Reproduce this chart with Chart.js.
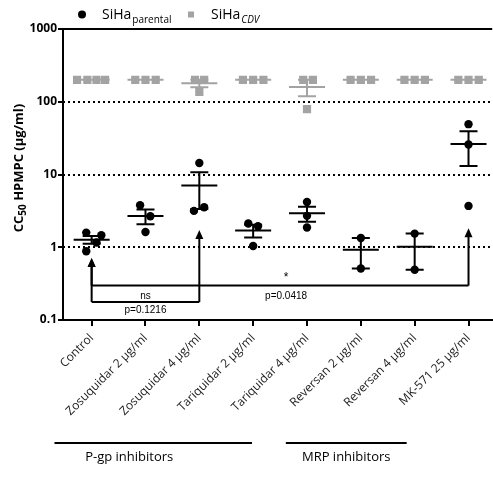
<!DOCTYPE html>
<html>
<head>
<meta charset="utf-8">
<script src="https://cdn.jsdelivr.net/npm/chart.js@4/dist/chart.umd.min.js"></script>
<style>
  html, body { margin: 0; padding: 0; background: #fff; overflow: hidden; }
  #wrap { width: 498px; height: 477px; }
</style>
</head>
<body>
<div id="wrap"><canvas id="cc50Chart"></canvas></div>
<script>
// ── Data ──────────────────────────────────────────────────────
const categories = ['Control', 'Zosuquidar 2 µg/ml', 'Zosuquidar 4 µg/ml', 'Tariquidar 2 µg/ml',
  'Tariquidar 4 µg/ml', 'Reversan 2 µg/ml', 'Reversan 4 µg/ml', 'MK-571 25 µg/ml'];

// CC50 per replicate, SiHa parental (black dots)
const parentalValues = [
  [1.59, 1.46, 1.16, 0.88],
  [3.78, 2.67, 1.62],
  [14.4, 3.16, 3.55],
  [2.12, 1.94, 1.04],
  [4.2, 2.7, 1.87],
  [1.34, 0.51],
  [1.54, 0.49],
  [49.2, 25.9, 3.7]
];
const parentalJitter = [
  [-0.1, 0.18, 0.09, -0.1],
  [-0.1, 0.09, 0],
  [0, -0.1, 0.09],
  [-0.09, 0.09, 0],
  [0, 0, 0],
  [0, 0],
  [0, 0],
  [0, 0, 0]
];

// CC50 per replicate, SiHa CDV (grey squares)
const cdvValues = [
  [200, 200, 200, 200],
  [200, 200, 200],
  [200, 200, 137],
  [200, 200, 200],
  [200, 200, 79],
  [200, 200, 200],
  [200, 200, 200],
  [200, 200, 200]
];
const cdvJitter = [
  [-0.27, -0.08, 0.09, 0.25],
  [-0.19, 0, 0.19],
  [-0.08, 0.09, 0],
  [-0.19, 0, 0.19],
  [-0.07, 0.11, 0],
  [-0.19, 0, 0.19],
  [-0.19, 0, 0.19],
  [-0.19, 0, 0.19]
];

const yTicks = [0.1, 1, 10, 100, 1000];
const yTickLabels = ['0.1', '1', '10', '100', '1000'];
const gridValues = [1, 10, 100];

const comparisons = [
  { from: 0, to: 2, mark: 'ns', p: 'p=0.1216' },
  { from: 0, to: 7, mark: '*', p: 'p=0.0418' }
];
const groupLabels = ['P-gp inhibitors', 'MRP inhibitors'];

const BLACK = '#000000';
const GREY = '#a3a3a3';

// ── Helpers ───────────────────────────────────────────────────
function toPoints(values, jitter) {
  const pts = [];
  values.forEach((arr, i) => arr.forEach((v, j) => pts.push({ x: i + jitter[i][j], y: v })));
  return pts;
}

function meanSem(vals) {
  const n = vals.length;
  const m = vals.reduce((a, b) => a + b, 0) / n;
  const sd = Math.sqrt(vals.reduce((a, b) => a + (b - m) ** 2, 0) / (n - 1));
  return { m, sem: sd / Math.sqrt(n) };
}

function arrowUp(ctx, x, yBase, yTip) {
  ctx.beginPath();
  ctx.moveTo(x, yBase);
  ctx.lineTo(x, yTip + 6);
  ctx.stroke();
  ctx.beginPath();
  ctx.moveTo(x, yTip);
  ctx.lineTo(x - 4, yTip + 9);
  ctx.lineTo(x + 4, yTip + 9);
  ctx.closePath();
  ctx.fill();
}

// ── Custom drawing: grid, error bars, brackets, legend, titles ─
const extras = {
  id: 'extras',
  beforeDatasetsDraw(chart) {
    const { ctx, chartArea: a, scales: { y } } = chart;
    ctx.save();
    ctx.strokeStyle = BLACK;
    ctx.lineWidth = 2;
    ctx.setLineDash([2, 3]);
    gridValues.forEach(v => {
      const py = Math.round(y.getPixelForValue(v));
      ctx.beginPath();
      ctx.moveTo(a.left, py);
      ctx.lineTo(a.right, py);
      ctx.stroke();
    });
    ctx.setLineDash([]);
    const top = Math.round(y.getPixelForValue(1000));
    ctx.beginPath();
    ctx.moveTo(a.left, top);
    ctx.lineTo(a.right, top);
    ctx.stroke();
    ctx.restore();
  },
  afterDatasetsDraw(chart) {
    const { ctx, scales: { x, y } } = chart;
    ctx.save();
    ctx.lineWidth = 2;

    const drawBars = (values, color) => {
      ctx.strokeStyle = color;
      values.forEach((vals, i) => {
        const { m, sem } = meanSem(vals);
        const cx = x.getPixelForValue(i);
        const ym = y.getPixelForValue(m);
        ctx.beginPath();
        ctx.moveTo(cx - 18, ym); ctx.lineTo(cx + 18, ym);
        if (sem > 0) {
          const yh = y.getPixelForValue(m + sem);
          const yl = y.getPixelForValue(m - sem);
          ctx.moveTo(cx, yh); ctx.lineTo(cx, yl);
          ctx.moveTo(cx - 9, yh); ctx.lineTo(cx + 9, yh);
          ctx.moveTo(cx - 9, yl); ctx.lineTo(cx + 9, yl);
        }
        ctx.stroke();
      });
    };
    drawBars(cdvValues, GREY);
    drawBars(parentalValues, BLACK);

    // significance brackets
    ctx.strokeStyle = BLACK;
    ctx.fillStyle = BLACK;
    const levels = [0.177, 0.297];
    const tips = [[0.71, 1.72], [0.71, 1.82]];
    comparisons.forEach((c, k) => {
      const by = y.getPixelForValue(levels[k]);
      const x1 = x.getPixelForValue(c.from);
      const x2 = x.getPixelForValue(c.to);
      ctx.beginPath();
      ctx.moveTo(x1, by); ctx.lineTo(x2, by);
      ctx.stroke();
      arrowUp(ctx, x1, by, y.getPixelForValue(tips[k][0]));
      arrowUp(ctx, x2, by, y.getPixelForValue(tips[k][1]));
      const mx = (x1 + x2) / 2 + (k === 1 ? 6 : 0);
      ctx.textAlign = 'center';
      ctx.textBaseline = 'middle';
      ctx.font = (k === 0 ? '10px' : '12px') + ' "Liberation Sans", Arial, sans-serif';
      ctx.fillText(c.mark, mx, by - (k === 0 ? 6 : 8));
      ctx.font = '10px "Liberation Sans", Arial, sans-serif';
      ctx.fillText(c.p, mx, by + (k === 0 ? 8 : 11));
    });
    ctx.restore();
  },
  afterDraw(chart) {
    const { ctx, scales: { x } } = chart;
    ctx.save();
    ctx.fillStyle = BLACK;
    ctx.textBaseline = 'alphabetic';

    // y-axis title with subscript
    ctx.translate(18, 168);
    ctx.rotate(-Math.PI / 2);
    const big = 'bold 13px "Open Sans", sans-serif';
    const small = 'bold 10px "Open Sans", sans-serif';
    ctx.font = big; const w1 = ctx.measureText('CC').width;
    ctx.font = small; const w2 = ctx.measureText('50').width;
    ctx.font = big; const w3 = ctx.measureText(' HPMPC (µg/ml)').width;
    let sx = -(w1 + w2 + w3) / 2;
    ctx.textAlign = 'left';
    ctx.font = big; ctx.fillText('CC', sx, 5); sx += w1;
    ctx.font = small; ctx.fillText('50', sx, 8); sx += w2;
    ctx.font = big; ctx.fillText(' HPMPC (µg/ml)', sx, 5);
    ctx.setTransform(1, 0, 0, 1, 0, 0);

    // legend
    ctx.beginPath();
    ctx.arc(82, 14.5, 4, 0, Math.PI * 2);
    ctx.fill();
    ctx.fillStyle = GREY;
    ctx.fillRect(188, 11.5, 6, 6);
    ctx.fillStyle = BLACK;
    const lg = '14px "Open Sans", sans-serif';
    const ls = '10px "Open Sans", sans-serif';
    ctx.font = lg; ctx.fillText('SiHa', 102, 19);
    let lx = 102 + ctx.measureText('SiHa').width + 1;
    ctx.font = ls; ctx.fillText('parental', lx, 23);
    ctx.font = lg; ctx.fillText('SiHa', 211, 19);
    lx = 211 + ctx.measureText('SiHa').width + 1;
    ctx.font = 'italic ' + ls; ctx.fillText('CDV', lx, 23);

    // group labels under the category axis
    const spans = [[x.getPixelForValue(1) - 91, x.getPixelForValue(4) - 55],
                   [x.getPixelForValue(5) - 75, x.getPixelForValue(6) - 8]];
    ctx.strokeStyle = BLACK;
    ctx.lineWidth = 2;
    ctx.font = '13px "Open Sans", sans-serif';
    ctx.textAlign = 'center';
    ctx.textBaseline = 'middle';
    spans.forEach(([l, r], k) => {
      ctx.beginPath();
      ctx.moveTo(l, 443); ctx.lineTo(r, 443);
      ctx.stroke();
      ctx.fillText(groupLabels[k], (l + r) / 2 + (k === 0 ? -24 : 0), 457);
    });
    ctx.restore();
  }
};

// ── Chart ─────────────────────────────────────────────────────
new Chart(document.getElementById('cc50Chart'), {
  type: 'scatter',
  data: {
    datasets: [
      {
        label: 'SiHa CDV',
        data: toPoints(cdvValues, cdvJitter),
        pointStyle: 'rect',
        pointRadius: 5.8,
        backgroundColor: GREY,
        borderWidth: 0
      },
      {
        label: 'SiHa parental',
        data: toPoints(parentalValues, parentalJitter),
        pointStyle: 'circle',
        pointRadius: 4.2,
        backgroundColor: BLACK,
        borderWidth: 0
      }
    ]
  },
  options: {
    responsive: true,
    maintainAspectRatio: false,
    animation: false,
    layout: { padding: { top: 29, right: 0, left: 0, bottom: 0 } },
    plugins: { legend: { display: false }, tooltip: { enabled: false } },
    scales: {
      x: {
        type: 'linear',
        min: -0.532,
        max: 7.44,
        afterBuildTicks: axis => { axis.ticks = categories.map((_, i) => ({ value: i })); },
        afterFit: axis => { axis.height = 157; },
        border: { display: true, color: BLACK, width: 2 },
        grid: { drawOnChartArea: false, drawTicks: true, tickLength: 6, tickColor: BLACK, lineWidth: 2 },
        ticks: {
          autoSkip: false,
          minRotation: 45,
          maxRotation: 45,
          padding: 5,
          color: '#222',
          font: { family: '"Open Sans", sans-serif', size: 12 },
          callback: (v, i) => categories[i]
        }
      },
      y: {
        type: 'logarithmic',
        min: 0.1,
        max: 1000,
        afterBuildTicks: axis => { axis.ticks = yTicks.map(v => ({ value: v })); },
        afterFit: axis => { axis.width = 63; },
        border: { display: true, color: BLACK, width: 2 },
        grid: { drawOnChartArea: false, drawTicks: true, tickLength: 5, tickColor: BLACK, lineWidth: 2 },
        ticks: {
          padding: 1,
          color: BLACK,
          font: { family: '"Open Sans", sans-serif', size: 12, weight: 'bold' },
          callback: (v, i) => yTickLabels[i]
        }
      }
    }
  },
  plugins: [extras]
});
</script>
</body>
</html>
